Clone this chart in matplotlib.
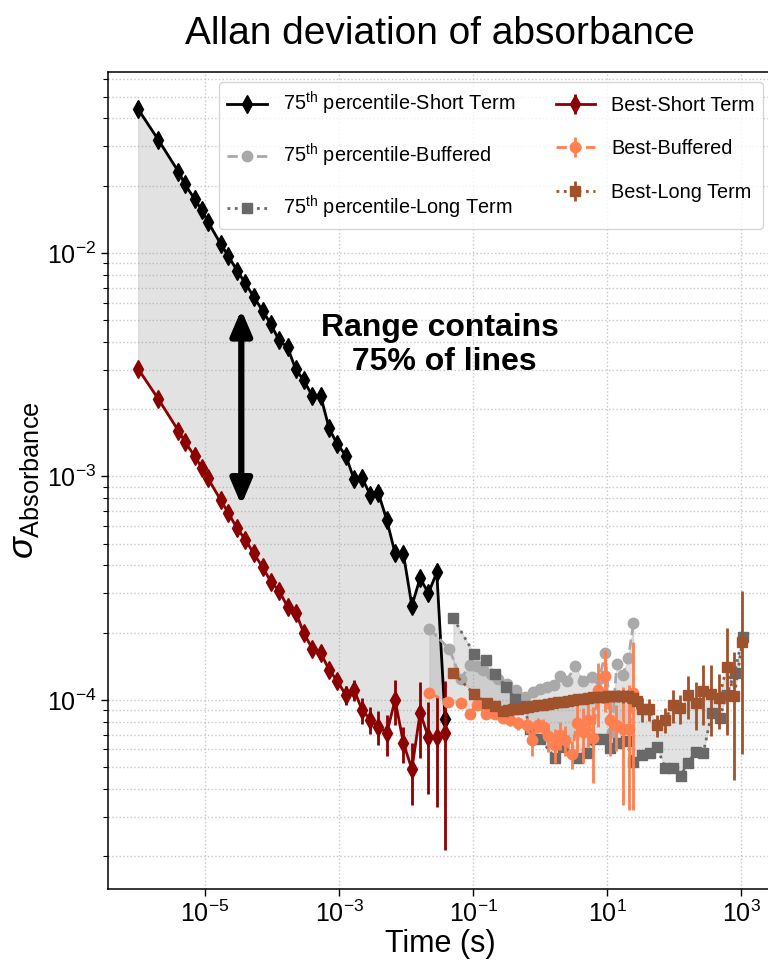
import numpy as np
import matplotlib
matplotlib.use('Agg')
import matplotlib.pyplot as plt
from matplotlib.ticker import FixedLocator, NullLocator, LogLocator

plt.rcParams['font.family'] = ['Liberation Sans', 'DejaVu Sans']
plt.rcParams['mathtext.fontset'] = 'custom'
plt.rcParams['mathtext.rm'] = 'Liberation Sans'
plt.rcParams['mathtext.it'] = 'Liberation Sans:italic'
plt.rcParams['mathtext.bf'] = 'Liberation Sans:bold'

# ---- short term (75th percentile and best share the same taus)
tau_st = [1.0e-6, 2.0e-6, 4.0e-6, 5.0e-6, 7.0e-6, 9.0e-6, 1.1e-5, 1.7e-5, 2.2e-5, 3.0e-5,
          4.0e-5, 5.3e-5, 7.2e-5, 9.6e-5, 1.27e-4, 1.70e-4, 2.26e-4, 2.95e-4, 3.99e-4, 5.33e-4,
          7.10e-4, 9.33e-4, 1.26e-3, 1.67e-3, 2.20e-3, 2.93e-3, 3.86e-3, 5.15e-3, 6.85e-3, 9.12e-3,
          1.22e-2, 1.62e-2, 2.15e-2, 2.87e-2, 3.82e-2]
p75_st = [4.40e-2, 3.21e-2, 2.31e-2, 2.03e-2, 1.74e-2, 1.55e-2, 1.38e-2, 1.10e-2, 9.73e-3, 8.34e-3,
          7.31e-3, 6.37e-3, 5.52e-3, 4.80e-3, 4.06e-3, 3.78e-3, 3.01e-3, 2.70e-3, 2.29e-3, 2.28e-3,
          1.64e-3, 1.40e-3, 1.24e-3, 9.70e-4, 9.84e-4, 8.26e-4, 8.41e-4, 6.38e-4, 4.53e-4, 4.50e-4,
          2.64e-4, 3.51e-4, 3.00e-4, 3.72e-4, 8.22e-5]
best_st = [3.03e-3, 2.22e-3, 1.60e-3, 1.43e-3, 1.23e-3, 1.09e-3, 9.82e-4, 7.85e-4, 6.89e-4, 5.86e-4,
           5.20e-4, 4.53e-4, 3.93e-4, 3.38e-4, 3.08e-4, 2.61e-4, 2.46e-4, 2.00e-4, 1.69e-4, 1.62e-4,
           1.36e-4, 1.22e-4, 1.05e-4, 1.11e-4, 9.02e-5, 8.15e-5, 7.60e-5, 7.10e-5, 1.00e-4, 6.40e-5,
           4.90e-5, 8.77e-5, 6.81e-5, 6.81e-5, 7.14e-5]
best_st_err = [8e-5, 6e-5, 4e-5, 4e-5, 3e-5, 3e-5, 3e-5, 2e-5, 2e-5, 2e-5,
               2e-5, 1.5e-5, 1.5e-5, 1.5e-5, 1.5e-5, 1e-5, 1e-5, 1e-5, 1e-5, 1e-5,
               8e-6, 8e-6, 1.0e-5, 1.2e-5, 1.2e-5, 1.1e-5, 1.3e-5, 1.5e-5, 2.3e-5, 1.2e-5,
               1.5e-5, 3.3e-5, 3.0e-5, 3.5e-5, 5.0e-5]

# ---- buffered
tau_buf75 = [0.0223, 0.0443, 0.0655, 0.0902, 0.1135, 0.1426, 0.1837, 0.2388, 0.3184, 0.4385,
             0.597, 0.794, 1.0, 1.259, 1.618, 1.991, 2.506, 3.327, 4.335, 5.916,
             7.674, 9.33, 11.75, 13.96, 17.14, 20.8, 24.7]
p75_buf = [2.08e-4, 1.69e-4, 1.24e-4, 1.435e-4, 1.42e-4, 1.36e-4, 1.31e-4, 1.24e-4, 1.18e-4, 1.11e-4,
           1.03e-4, 1.09e-4, 1.12e-4, 1.14e-4, 1.16e-4, 1.28e-4, 1.22e-4, 1.42e-4, 1.22e-4, 1.26e-4,
           1.24e-4, 1.62e-4, 7.21e-5, 1.45e-4, 1.29e-4, 1.54e-4, 2.20e-4]
tau_buf = [0.0223, 0.0428, 0.0655, 0.0902, 0.1135, 0.156, 0.213, 0.283, 0.356, 0.474,
           0.632, 0.752, 0.944, 1.12, 1.33, 1.67, 1.99, 2.36, 2.97, 3.53,
           4.34, 5.20, 6.18, 7.41, 9.33, 11.1, 13.6, 17.1, 21.5, 24.7]
best_buf = [1.07e-4, 9.82e-5, 9.73e-5, 8.65e-5, 9.51e-5, 8.65e-5, 8.65e-5, 8.28e-5, 8.13e-5, 7.87e-5,
            7.73e-5, 6.62e-5, 7.73e-5, 7.60e-5, 6.86e-5, 6.30e-5, 6.97e-5, 6.62e-5, 5.73e-5, 7.87e-5,
            7.21e-5, 8.13e-5, 6.76e-5, 1.11e-4, 1.28e-4, 8.13e-5, 7.73e-5, 7.40e-5, 7.40e-5, 1.07e-4]
best_buf_err = [3e-6, 3e-6, 3e-6, 3e-6, 3e-6, 4e-6, 4e-6, 4e-6, 5e-6, 5e-6,
                6e-6, 1.0e-5, 6e-6, 6e-6, 1.0e-5, 1.1e-5, 1.0e-5, 1.0e-5, 8e-6, 2.0e-5,
                2.0e-5, 2.0e-5, 2.5e-5, 3.5e-5, 4.0e-5, 2.5e-5, 1.8e-5, 4.0e-5, 4.2e-5, 7.5e-5]

# ---- long term
tau_lt75 = [0.0508, 0.1035, 0.156, 0.213, 0.314, 0.424, 0.577, 0.710, 1.0, 1.67,
            2.23, 3.73, 4.98, 6.62, 8.63, 11.1, 14.4, 19.0, 24.7, 33.0,
            43.1, 55.2, 73.4, 95.7, 125, 160, 211, 274, 363, 478,
            612, 800, 1052]
p75_lt = [2.32e-4, 1.61e-4, 1.51e-4, 1.31e-4, 1.14e-4, 1.01e-4, 9.40e-5, 7.41e-5, 6.70e-5, 5.50e-5,
          6.18e-5, 5.48e-5, 5.81e-5, 6.67e-5, 6.67e-5, 6.12e-5, 6.43e-5, 6.56e-5, 5.30e-5, 5.68e-5,
          5.81e-5, 6.16e-5, 4.98e-5, 4.96e-5, 4.57e-5, 5.21e-5, 5.87e-5, 5.79e-5, 8.71e-5, 8.30e-5,
          1.05e-4, 1.32e-4, 1.91e-4]
tau_lt = [0.0508, 0.1045, 0.159, 0.213,
          0.281, 0.333, 0.395, 0.470, 0.557, 0.662, 0.787, 0.933, 1.11, 1.32,
          1.56, 1.86, 2.20, 2.62, 3.11, 3.69, 4.38, 5.20, 6.18, 7.34,
          8.71, 10.3, 12.3, 14.6, 17.3, 20.6, 24.4, 28.0,
          33.0, 42.8, 55.2, 73.4, 95.7, 123, 160, 211, 274, 356,
          470, 612, 795, 1045]
best_lt = [1.32e-4, 1.06e-4, 9.70e-5, 9.40e-5,
           8.93e-5, 9.03e-5, 9.06e-5, 9.12e-5, 9.21e-5, 9.31e-5, 9.40e-5, 9.45e-5, 9.50e-5, 9.60e-5,
           9.70e-5, 9.75e-5, 9.80e-5, 9.91e-5, 1.00e-4, 1.005e-4, 1.01e-4, 1.02e-4, 1.026e-4, 1.03e-4,
           1.03e-4, 1.037e-4, 1.037e-4, 1.042e-4, 1.042e-4, 1.037e-4, 1.02e-4, 9.91e-5,
           9.08e-5, 9.08e-5, 7.69e-5, 8.13e-5, 9.50e-5, 9.18e-5, 1.05e-4, 9.72e-5, 1.10e-4, 1.06e-4,
           1.02e-4, 1.40e-4, 1.04e-4, 1.82e-4]
best_lt_err = [3e-6, 3e-6, 3e-6, 3e-6,
               3e-6, 3e-6, 3e-6, 3e-6, 3e-6, 3e-6, 3e-6, 4e-6, 4e-6, 4e-6,
               4e-6, 4e-6, 4e-6, 4e-6, 5e-6, 5e-6, 5e-6, 5e-6, 5e-6, 5e-6,
               6e-6, 6e-6, 6e-6, 6e-6, 7e-6, 7e-6, 7e-6, 8e-6,
               1.1e-5, 1.0e-5, 8.8e-6, 1.04e-5, 1.6e-5, 1.35e-5, 2.3e-5, 2.35e-5, 3.3e-5, 3.7e-5,
               2.8e-5, 7.0e-5, 6.0e-5, 1.25e-4]

labels = [r'75$^{\mathrm{th}}$ percentile-Short Term',
          r'75$^{\mathrm{th}}$ percentile-Buffered',
          r'75$^{\mathrm{th}}$ percentile-Long Term',
          'Best-Short Term', 'Best-Buffered', 'Best-Long Term']


def log_interp(x_new, x, y):
    return 10 ** np.interp(np.log10(x_new), np.log10(x), np.log10(y))


fig = plt.figure(figsize=(7.68, 9.71), dpi=100)
ax = fig.add_axes([0.1406, 0.0845, 0.8653, 0.8414])
ax.set_xscale('log')
ax.set_yscale('log')

# shaded ranges
fill_kw = dict(color='0.6', alpha=0.28, lw=0.8)
ax.fill_between(tau_st, p75_st, best_st, **fill_kw)
ax.fill_between(tau_buf75, p75_buf, log_interp(tau_buf75, tau_buf, best_buf), **fill_kw)
ax.fill_between(tau_lt75, p75_lt, log_interp(tau_lt75, tau_lt, best_lt), **fill_kw)

ax.plot(tau_st, p75_st, color='k', marker='d', ms=9, lw=2, label=labels[0])
ax.plot(tau_buf75, p75_buf, color='darkgray', marker='o', ms=7.5, lw=2, ls='--', label=labels[1])
ax.plot(tau_lt75, p75_lt, color='dimgray', marker='s', ms=7, lw=2, ls=':', label=labels[2])

ax.errorbar(tau_st, best_st, yerr=best_st_err, color='darkred', marker='d', ms=9, lw=2,
            elinewidth=2, label=labels[3])
ax.errorbar(tau_buf, best_buf, yerr=best_buf_err, color='coral', marker='o', ms=7.5, lw=2,
            ls='--', elinewidth=2, label=labels[4])
ax.errorbar(tau_lt, best_lt, yerr=best_lt_err, color='sienna', marker='s', ms=7, lw=2,
            ls=':', elinewidth=2, label=labels[5])

ax.set_xlim(10 ** -6.45, 10 ** 3.47)
ax.set_ylim(10 ** -4.846, 10 ** -1.19)

ax.xaxis.set_major_locator(FixedLocator([1e-5, 1e-3, 1e-1, 1e1, 1e3]))
ax.xaxis.set_minor_locator(NullLocator())
ax.yaxis.set_major_locator(LogLocator(base=10))
ax.yaxis.set_minor_locator(LogLocator(base=10, subs=np.arange(2, 10)))

ax.grid(which='major', axis='x', ls=':', color='#c8c8c8', lw=1.0)
ax.grid(which='both', axis='y', ls=':', color='#c8c8c8', lw=1.0)
ax.set_axisbelow(True)

ax.tick_params(which='major', labelsize=18, length=5, width=1, direction='out')
ax.tick_params(which='minor', length=3.5, width=0.8, direction='out')
for s in ax.spines.values():
    s.set_color('k')
    s.set_linewidth(1.1)

ax.set_xlabel('Time (s)', fontsize=22, labelpad=1)
ax.set_ylabel(r'$\sigma_{\mathrm{Absorbance}}$', fontsize=26, labelpad=4)
ax.set_title('Allan deviation of absorbance', fontsize=28, pad=20)

ax.annotate('', xy=(0.2006, 0.709), xytext=(0.2006, 0.47), xycoords='axes fraction',
            arrowprops=dict(arrowstyle='<|-|>,head_length=0.75,head_width=0.32',
                            color='k', lw=4.5, mutation_scale=20, shrinkA=0, shrinkB=0))
ax.text(0.5, 0.666, 'Range contains\n 75% of lines', transform=ax.transAxes,
        ha='center', va='center', multialignment='center', fontsize=23, fontweight='bold')

ax.legend(loc='upper right', ncol=2, fontsize=14.3, labelspacing=1.25, borderaxespad=0.5,
          handlelength=2.0, columnspacing=2.0)

fig.savefig('out.png', dpi=100)
